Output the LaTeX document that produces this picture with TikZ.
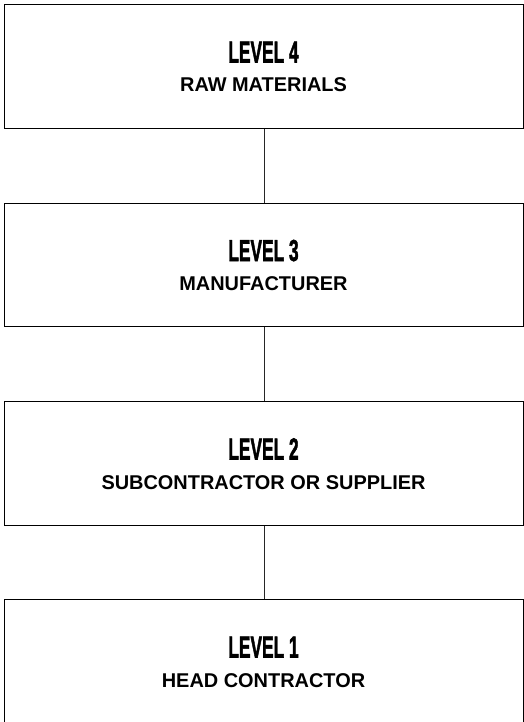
\documentclass[tikz,border=0pt]{standalone}
\usepackage{fontspec}
\setmainfont{Liberation Sans}
\newfontfamily\titlefont[BoldFeatures={FakeBold=2.2}]{Liberation Sans}
\begin{document}
\begin{tikzpicture}[x=1bp,y=-1bp,
  levelbox/.style={draw=black,line width=1.2bp,rectangle,anchor=north west,
    minimum width=518.5bp,minimum height=123.7bp,inner sep=0pt},
  titletext/.style={anchor=base,inner sep=0pt,font=\titlefont\bfseries\fontsize{30.5}{30}\selectfont},
  subtext/.style={anchor=base,inner sep=0pt,font=\bfseries\fontsize{20}{20}\selectfont},
  link/.style={draw=black!85,line width=1bp}]
\useasboundingbox (0,0) rectangle (524,722);
\fill[white] (0,0) rectangle (524,722);
\node[levelbox] (b4) at (4,4) {};
\node[levelbox] (b3) at (4,202.5) {};
\node[levelbox] (b2) at (4,401) {};
\node[levelbox] (b1) at (4,599) {};
\node[titletext] (t4) at (263.5,62.5) {\scalebox{0.57}[1]{LEVEL 4}};
\node[subtext] (s4) at (263.5,92) {RAW MATERIALS};
\node[titletext] (t3) at (263.5,261) {\scalebox{0.57}[1]{LEVEL 3}};
\node[subtext] (s3) at (263.5,290.5) {MANUFACTURER};
\node[titletext] (t2) at (263.5,459.5) {\scalebox{0.57}[1]{LEVEL 2}};
\node[subtext] (s2) at (263.5,489) {SUBCONTRACTOR OR SUPPLIER};
\node[titletext] (t1) at (263.5,657.5) {\scalebox{0.57}[1]{LEVEL 1}};
\node[subtext] (s1) at (263.5,687) {HEAD CONTRACTOR};
\draw[link] ([xshift=0.5bp]b4.south) -- ([xshift=0.5bp]b3.north);
\draw[link] ([xshift=0.5bp]b3.south) -- ([xshift=0.5bp]b2.north);
\draw[link] ([xshift=0.5bp]b2.south) -- ([xshift=0.5bp]b1.north);
\end{tikzpicture}
\end{document}
